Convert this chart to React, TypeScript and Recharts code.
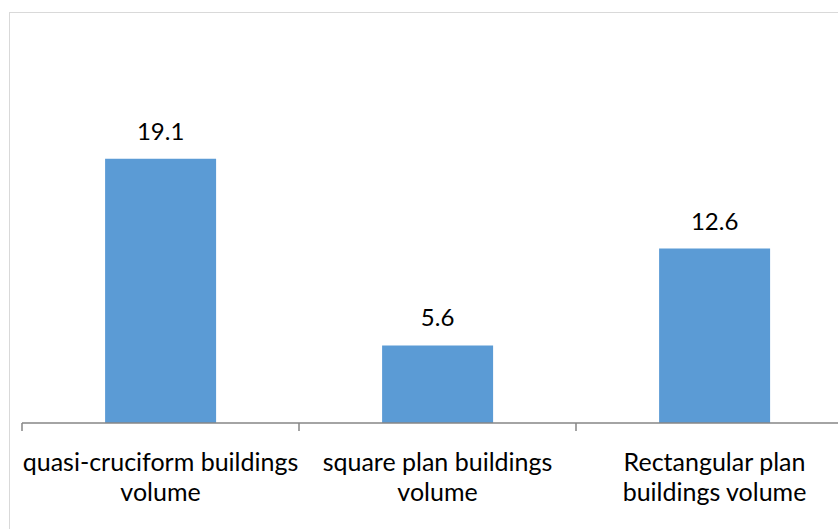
import React from 'react';
import { BarChart, Bar, XAxis, YAxis, LabelList } from 'recharts';

const categories = [
  'quasi-cruciform buildings volume',
  'square plan buildings volume',
  'Rectangular plan buildings volume',
];
const volumes = [19.1, 5.6, 12.6];
// how each category label breaks over two lines
const tickLines = [
  ['quasi-cruciform buildings', 'volume'],
  ['square plan buildings', 'volume'],
  ['Rectangular plan', 'buildings volume'],
];

const data = categories.map((name, i) => ({ name, value: volumes[i] }));

const FONT = 'Lato, "Open Sans", sans-serif';
const BAR_COLOR = '#5B9BD5';
const AXIS_COLOR = '#868686';

function CategoryTick(props: any) {
  const { x, y, index } = props;
  const lines = tickLines[index] || [];
  return (
    <g transform={`translate(${x},${y})`}>
      {lines.map((line, i) => (
        <text
          key={i}
          x={0}
          y={40 + i * 30}
          textAnchor="middle"
          fontFamily={FONT}
          fontSize={25}
          fill="#000"
        >
          {line}
        </text>
      ))}
    </g>
  );
}

export default function App() {
  return (
    <div style={{ position: 'absolute', left: 0, top: 0, width: 838, height: 529, overflow: 'hidden', background: '#fff' }}>
      <div
        style={{
          position: 'absolute', left: 9, top: 12, width: 900, height: 600,
          border: '1px solid #D9D9D9', boxSizing: 'border-box',
        }}
      />
      <div style={{ position: 'absolute', left: 0, top: 0 }}>
        <BarChart
          width={870}
          height={529}
          data={data}
          barCategoryGap="30%"
          margin={{ top: 77, right: 17, left: 22, bottom: 16 }}
        >
          <XAxis
            dataKey="name"
            height={90}
            interval={0}
            axisLine={{ stroke: AXIS_COLOR, strokeWidth: 1.5 }}
            tickLine={false}
            tick={<CategoryTick />}
          />
          <YAxis hide domain={[0, 25]} />
          <Bar dataKey="value" fill={BAR_COLOR} isAnimationActive={false}>
            <LabelList
              dataKey="value"
              position="top"
              offset={19}
              fontFamily={FONT}
              fontSize={24}
              fill="#000"
              formatter={(v: any) => Number(v).toFixed(1)}
            />
          </Bar>
        </BarChart>
      </div>
      <svg width={838} height={529} style={{ position: 'absolute', left: 0, top: 0, pointerEvents: 'none' }}>
        {[0, 1, 2].map((i) => (
          <line key={i} x1={22 + i * 277} x2={22 + i * 277} y1={423} y2={431} stroke={AXIS_COLOR} strokeWidth={1.5} />
        ))}
      </svg>
    </div>
  );
}
